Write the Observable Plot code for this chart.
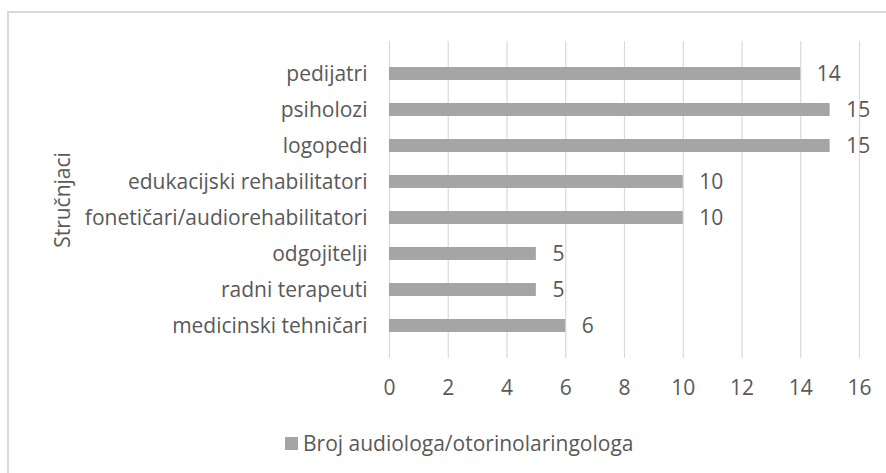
<!DOCTYPE html>
<html>
<head>
<meta charset="utf-8">
<script src="https://cdn.jsdelivr.net/npm/d3@7"></script>
<script src="https://cdn.jsdelivr.net/npm/@observablehq/plot@0.6"></script>
<style>
  html, body { margin: 0; padding: 0; background: #fff; width: 886px; height: 473px; overflow: hidden; }
  #wrap { position: relative; width: 886px; height: 473px; font-family: "Open Sans", sans-serif; color: #595959; }
  #border { position: absolute; left: 7px; top: 11px; width: 900px; height: 500px; border: 2px solid #d9d9d9; box-sizing: border-box; }
  #chart { position: absolute; left: 0; top: 0; }
  #legend { position: absolute; left: 285px; top: 429px; font-size: 21px; display: flex; align-items: center; white-space: nowrap; }
  #legend .sw { width: 13px; height: 13px; background: #a5a5a5; margin-right: 5px; }
</style>
</head>
<body>
<div id="wrap">
  <div id="border"></div>
  <div id="chart"></div>
  <div id="legend"></div>
</div>
<script>
const categories = ["pedijatri", "psiholozi", "logopedi", "edukacijski rehabilitatori", "fonetičari/audiorehabilitatori", "odgojitelji", "radni terapeuti", "medicinski tehničari"];
const values = [14, 15, 15, 10, 10, 5, 5, 6];
const xTicks = [0, 2, 4, 6, 8, 10, 12, 14, 16];
const seriesName = "Broj audiologa/otorinolaringologa";
const yLabel = "Stručnjaci";

const data = categories.map((c, i) => ({category: c, value: values[i]}));
const textColor = "#595959";
const fs = 21;

const plot = Plot.plot({
  width: 886,
  height: 430,
  marginTop: 41,
  marginBottom: 72,
  marginLeft: 389,
  marginRight: 27,
  style: {fontFamily: "Open Sans, sans-serif", fontSize: fs + "px", color: textColor, background: "transparent"},
  x: {domain: [0, 16], ticks: xTicks},
  y: {domain: categories, padding: 0.63},
  marks: [
    Plot.gridX(xTicks, {stroke: "#d9d9d9", strokeOpacity: 1, strokeWidth: 1.2}),
    Plot.barX(data, {x: "value", y: "category", fill: "#a5a5a5"}),
    Plot.text(data, {x: "value", y: "category", text: d => String(d.value), dx: 16, textAnchor: "start", fill: textColor, fontSize: fs}),
    Plot.axisX({ticks: xTicks, tickSize: 0, tickPadding: 22, label: null, fill: textColor, fontSize: fs}),
    Plot.axisY({tickSize: 0, tickPadding: 22, label: null, fill: textColor, fontSize: fs}),
    Plot.text([yLabel], {text: d => d, frameAnchor: "left", textAnchor: "middle", dx: -326, rotate: -90, fill: textColor, fontSize: fs})
  ]
});
document.getElementById("chart").appendChild(plot);

const legend = document.getElementById("legend");
const sw = document.createElement("span"); sw.className = "sw";
const lt = document.createElement("span"); lt.textContent = seriesName;
legend.appendChild(sw); legend.appendChild(lt);
</script>
</body>
</html>
